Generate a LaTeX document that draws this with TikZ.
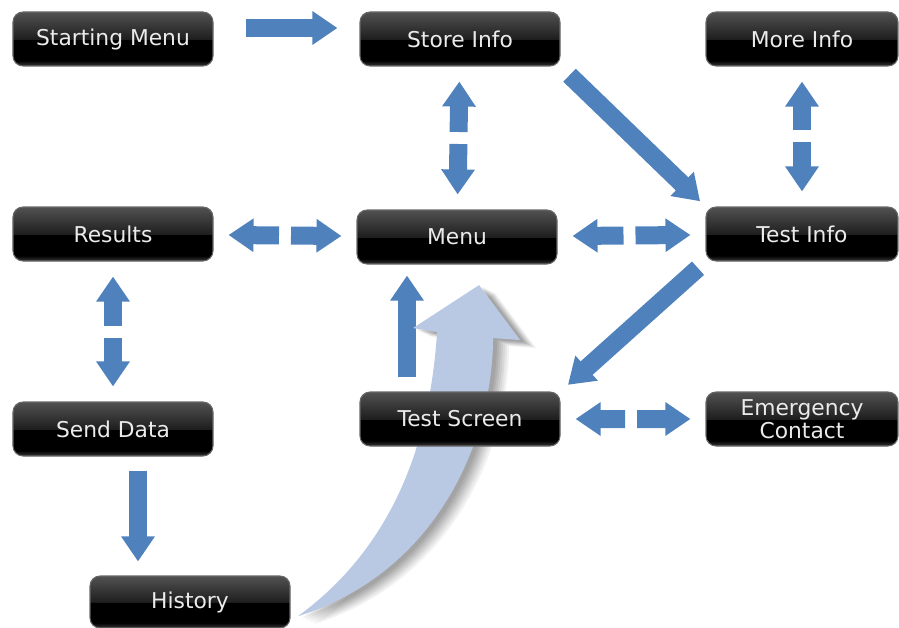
\documentclass[tikz,border=0pt]{standalone}
\usepackage{fontspec}
\setmainfont{DejaVu Sans}
\usepackage{tikz}
\usetikzlibrary{arrows.meta, positioning, calc, backgrounds}
\usepackage{xcolor}
\definecolor{flowblue}{RGB}{79,129,189}
\definecolor{sweepblue}{RGB}{185,200,227}
\definecolor{btnedge}{RGB}{105,105,105}
\pgfdeclareverticalshading{gloss}{100bp}{color(0bp)=(black!78); color(25bp)=(black!78);
  color(30bp)=(black); color(49.5bp)=(black); color(50bp)=(black!88);
  color(75bp)=(black!68); color(100bp)=(black!68)}

\begin{document}
\begin{tikzpicture}[
  btn/.style={draw=btnedge, shade, shading=gloss, rounded corners=0.2cm,
              minimum width=4cm, minimum height=1.08cm, text=white!92!black,
              font=\fontsize{12.4}{14}\selectfont, align=center, line width=0.6pt},
  fat/.style={-{Triangle[length=0.5cm, width=0.64cm]}, flowblue, line width=0.36cm},
]
  \useasboundingbox (0,0) rectangle (17.98,-12.56);

  \node[btn] (start) at (2.26,-0.78) {Starting Menu};
  \node[btn] (store) at (9.20,-0.78) {Store Info};
  \node[btn, minimum width=3.84cm] (more) at (16.04,-0.78) {More Info};
  \node[btn] (res) at (2.26,-4.68) {Results};
  \node[btn] (menu) at (9.14,-4.74) {Menu};
  \node[btn, minimum width=3.84cm] (tinfo) at (16.04,-4.68) {Test Info};
  \node[btn] (send) at (2.26,-8.58) {Send Data};
  \node[btn] (tscreen) at (9.20,-8.38) {Test Screen};
  \node[btn, minimum width=3.84cm, inner ysep=1pt,
        font=\fontsize{12.4}{13.4}\selectfont] (emerg) at (16.04,-8.38) {Emergency\\Contact};
  \node[btn, minimum height=1.04cm] (hist) at (3.80,-12.04) {History};

  \begin{scope}[on background layer]
    % two-way links, split in the middle
    \foreach \a/\b in {store/menu, more/tinfo, res/menu, menu/tinfo, res/send, tscreen/emerg} {
      \coordinate (gap) at ($(\a)!0.5!(\b)$);
      \draw[fat, shorten <=0.12cm, shorten >=0.3cm] (gap) -- (\a);
      \draw[fat, shorten <=0.12cm, shorten >=0.3cm] (gap) -- (\b);
    }

    % one-way links
    \draw[fat, shorten <=0.64cm, shorten >=0.44cm]
      ([yshift=0.22cm]start.east) -- ([yshift=0.22cm]store.west);
    \draw[fat, shorten <=0.25cm, shorten >=0.15cm] (store.south east) -- (tinfo.north west);
    \draw[fat, shorten <=0.2cm, shorten >=0.2cm] (tinfo.south west) -- (tscreen.north east);
    \draw[fat, shorten <=0.28cm, shorten >=0.22cm]
      ([xshift=-1.06cm]tscreen.north) -- ([xshift=-1.06cm]tscreen.north |- menu.south);
    \draw[fat, shorten <=0.28cm, shorten >=0.28cm]
      ([xshift=0.5cm]send.south) -- ([xshift=0.5cm]send.south |- hist.north);

    % sweeping arrow from History back to Menu, soft shadow first
    \begin{scope}[x=0.02cm, y=-0.02cm]
      \foreach \d/\op/\c in {16/0.05/black, 14/0.05/black, 12/0.06/black, 10/0.06/black,
                             8/0.07/black, 6/0.07/black, 4/0.07/black, 0/1/sweepblue} {
        \fill[\c, opacity=\op, shift={(\d,0.5*\d)}]
          (298,616) .. controls (430,575) and (492,450) .. (493,338)
          -- (520,340) -- (479,285) -- (413,328) -- (437,332)
          .. controls (430,440) and (395,545) .. (298,616) -- cycle;
      }
    \end{scope}
  \end{scope}
\end{tikzpicture}
\end{document}
